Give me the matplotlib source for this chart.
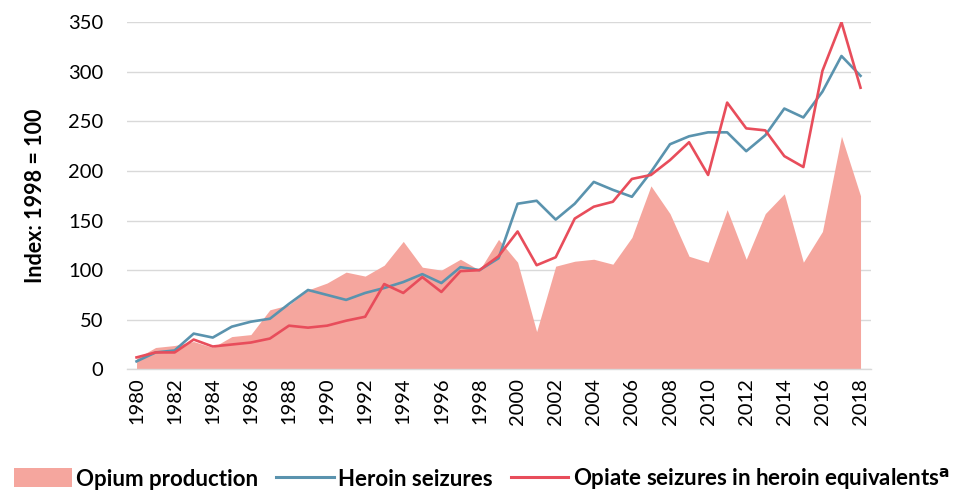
import matplotlib
matplotlib.use("Agg")
import matplotlib.pyplot as plt
from matplotlib.patches import Patch
from matplotlib.lines import Line2D

years = list(range(1980, 2019))
opium_production = [11, 22, 24, 28, 22, 33, 35, 60, 65, 80,
                    87, 98, 94, 105, 129, 103, 100, 111, 100, 131,
                    108, 38, 104, 109, 111, 106, 133, 185, 157, 114,
                    108, 161, 111, 157, 177, 108, 139, 235, 175]
heroin_seizures = [8, 17, 19, 36, 32, 43, 48, 51, 66, 80,
                   75, 70, 77, 82, 88, 96, 87, 103, 100, 112,
                   167, 170, 151, 167, 189, 181, 174, 199, 227, 235,
                   239, 239, 220, 236, 263, 254, 280, 316, 296]
opiate_seizures = [12, 17, 17, 30, 23, 25, 27, 31, 44, 42,
                   44, 49, 53, 86, 77, 93, 78, 99, 100, 114,
                   139, 105, 113, 152, 164, 169, 192, 196, 211, 229,
                   196, 269, 243, 241, 215, 204, 301, 350, 284]
y_ticks = [0, 50, 100, 150, 200, 250, 300, 350]
x_ticks = list(range(1980, 2019, 2))

fill_color = "#F5A69E"
blue = "#5A93AE"
red = "#E84D5B"
font = ["Lato", "DejaVu Sans"]
plt.rcParams["font.family"] = font

fig = plt.figure(figsize=(9.68, 4.92), dpi=100)
ax = fig.add_axes([0.1312, 0.2494, 0.8998 - 0.1312, 0.9547 - 0.2494])

ax.fill_between(years, 0, opium_production, color=fill_color, linewidth=0, zorder=2)
ax.plot(years, heroin_seizures, color=blue, linewidth=1.9, zorder=3)
ax.plot(years, opiate_seizures, color=red, linewidth=1.9, zorder=4)

ax.set_xlim(1979.5, 2018.55)
ax.set_ylim(0, 350)
ax.set_yticks(y_ticks)
ax.set_xticks(x_ticks)
ax.set_xticklabels([str(x) for x in x_ticks], rotation=90)
ax.grid(axis="y", color="#D9D9D9", linewidth=1.0, zorder=0)
ax.set_axisbelow(True)
for s in ["left", "right", "top"]:
    ax.spines[s].set_visible(False)
ax.spines["bottom"].set_color("#D9D9D9")
ax.spines["bottom"].set_linewidth(1.0)
ax.tick_params(axis="both", length=0, labelsize=14.5, colors="black")
ax.tick_params(axis="y", pad=17)
ax.tick_params(axis="x", pad=6)
ax.set_ylabel("Index: 1998 = 100", fontsize=15.5, fontweight="bold", labelpad=16)

handles = [Patch(facecolor=fill_color, edgecolor="none"),
           Line2D([0], [0], color=blue, linewidth=2.2),
           Line2D([0], [0], color=red, linewidth=2.2)]
labels = ["Opium production", "Heroin seizures",
          r"Opiate seizures in heroin equivalents$^{\mathbf{a}}$"]
leg = fig.legend(handles, labels, loc="lower left", bbox_to_anchor=(-0.004, -0.036),
                 ncol=3, frameon=False, handlelength=2.6, handleheight=0.95,
                 handletextpad=0.2, columnspacing=0.8, borderpad=0.3,
                 prop={"family": font, "weight": "bold", "size": 16})

fig.savefig("out.png", dpi=100)
